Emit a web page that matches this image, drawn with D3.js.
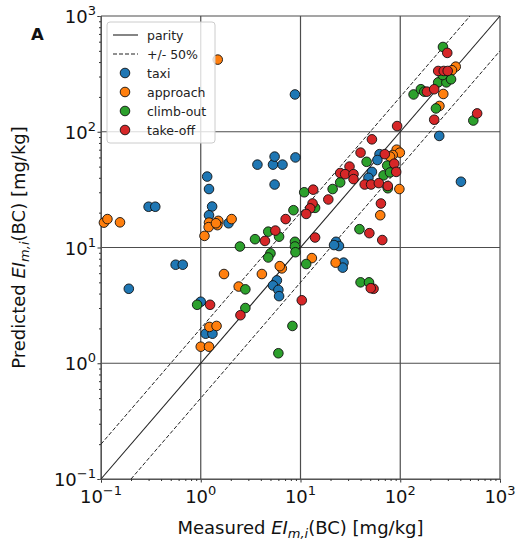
<!DOCTYPE html>
<html>
<head>
<meta charset="utf-8">
<script src="https://cdn.jsdelivr.net/npm/d3@7"></script>
<style>
body { margin: 0; background: #fff; }
text { font-family: "DejaVu Sans", sans-serif; }
</style>
</head>
<body>
<div id="chart"></div>
<script>

// measured vs predicted, one array per mode
var taxi = [[0.19,4.4],[0.30,22.5],[0.35,22.5],[0.56,7.1],[0.66,7.1],
	[1.16,41],[1.21,32],[1.3,22.6],[1.21,19],[1.9,16.2],
	[3.7,52],[5.3,52],[6.6,52],[5.5,61],[8.9,60],[5.5,35],
	[8.8,210],[406,37],[246,92],
	[62,64],[59,57],[52,45],[48,40],
	[22.7,11.2],[24.3,10.3],[21.7,10.5],[27,7.4],[26.5,6.7],
	[5.8,5.2],[5.3,4.7],[6.0,4.3],[6.1,3.8],
	[1.0,3.4],[1.12,1.8],[1.31,1.8]];

var approach = [[1.48,420],[0.107,16.4],[0.116,17.6],[0.155,16.5],
	[1.21,16.4],[1.2,15],[1.09,12.6],[1.5,17],[1.47,15.6],[1.42,16.2],[2.04,17.6],
	[1.71,5.9],[4.1,5.9],[2.4,4.6],[6.5,6.6],[6.2,6.9],
	[1.22,2.06],[1.44,2.1],[1.0,1.39],[1.21,1.39],
	[13,8.1],[22.5,7.4],
	[92,70],[99,66],[84,63],[79,61],[98,32],[63,19],
	[360,365],[330,340],[270,212],[247,167]];

var climbOut = [[268,540],[540,125],[228,159],[136,210],[161,233],[174,222],[240,267],[290,267],[323,284],[266,309],
	[46,55],[74,51],[68,42],[79,44.5],[25,36.5],[21,32],[10.9,30],[8.5,21],[14,22],[75,32.5],[39,14.4],
	[8.8,11.2],[8.8,10.2],[8.9,9.1],[2.47,10.2],[3.5,11.8],[4.75,13.7],[6.1,12.4],[5.0,8.9],[4.75,8.2],
	[2.8,4.35],[2.8,3.0],[8.3,2.1],[6.0,1.22],[0.92,3.2],[11.4,7.2],[40,5.0],[48.6,5.0]];

var takeOff = [[296,480],[240,335],[273,335],[299,335],[185,222],[219,233],[590,144],[219,127],[93,112],[52,86],[40,66],
	[31,50],[25,44],[28,43],[34,43],[34,39],[13.4,31.6],[19,26],[13.2,24],[12.5,21.8],[11.4,19.5],
	[64,24],[44,35],[51,35],[61,36],[75,34],[87,53],[91,45],[70,64],
	[49,13.3],[66,11.6],[14,12.2],[54,4.4],[50.6,4.45],[10.3,3.5],
	[7.1,17.6],[5.6,14],[4.4,11.4],[2.5,2.6],[1.24,3.2]];

var seriesNames = ["taxi", "approach", "climb-out", "take-off"];
var seriesColors = ["#1f77b4", "#ff7f0e", "#2ca02c", "#d62728"];
var majorTicks = [0.1, 1, 10, 100, 1000];
var tickExponents = ["\u22121", "0", "1", "2", "3"];

var svgWidth = 522;
var svgHeight = 550;
var margin = { top: 16, right: 22, bottom: 71, left: 101 };
var width = svgWidth - margin.left - margin.right;
var height = svgHeight - margin.top - margin.bottom;

var svg = d3.select("#chart")
	.append("svg")
	.attr("width", svgWidth)
	.attr("height", svgHeight);

var chartGroup = svg.append("g")
	.attr("transform", `translate(${margin.left}, ${margin.top})`);

var x = d3.scaleLog().domain([0.1, 1000]).range([0, width]);
var y = d3.scaleLog().domain([0.1, 1000]).range([height, 0]);

// minor ticks 2..9 per decade
var minorTicks = [];
majorTicks.slice(0, -1).forEach(function(m) {
	for (var k = 2; k < 10; k++) minorTicks.push(m * k);
});

// grid
chartGroup.selectAll(".gx").data(majorTicks).enter().append("line")
	.attr("x1", d => x(d)).attr("x2", d => x(d))
	.attr("y1", 0).attr("y2", height)
	.attr("stroke", "#4d4d4d").attr("stroke-width", 1.2);
chartGroup.selectAll(".gy").data(majorTicks).enter().append("line")
	.attr("y1", d => y(d)).attr("y2", d => y(d))
	.attr("x1", 0).attr("x2", width)
	.attr("stroke", "#4d4d4d").attr("stroke-width", 1.2);

// axes
var bottomAxis = d3.axisBottom(x).tickValues(majorTicks).tickFormat("").tickSize(3.5);
var leftAxis = d3.axisLeft(y).tickValues(majorTicks).tickFormat("").tickSize(3.5);
var gx = chartGroup.append("g").attr("transform", `translate(0, ${height})`).call(bottomAxis);
var gy = chartGroup.append("g").call(leftAxis);
chartGroup.append("g").attr("transform", `translate(0, ${height})`)
	.call(d3.axisBottom(x).tickValues(minorTicks).tickFormat("").tickSize(2));
chartGroup.append("g")
	.call(d3.axisLeft(y).tickValues(minorTicks).tickFormat("").tickSize(2));
chartGroup.selectAll(".domain").attr("stroke", "#555");
chartGroup.selectAll(".tick line").attr("stroke", "#333");

// tick labels with exponents
majorTicks.forEach(function(t, i) {
	var tx = chartGroup.append("text")
		.attr("x", x(t)).attr("y", height + 24)
		.attr("text-anchor", "middle")
		.attr("font-size", 18).attr("fill", "#111");
	tx.append("tspan").text("10");
	tx.append("tspan").attr("dy", -8).attr("font-size", 13).text(tickExponents[i]);

	var ty = chartGroup.append("text")
		.attr("x", -5).attr("y", y(t) + 7)
		.attr("text-anchor", "end")
		.attr("font-size", 18).attr("fill", "#111");
	ty.append("tspan").text("10");
	ty.append("tspan").attr("dy", -8).attr("font-size", 13).text(tickExponents[i]);
});

// reference lines
var lineGen = d3.line().x(d => x(d[0])).y(d => y(d[1]));
chartGroup.append("path")
	.attr("d", lineGen([[0.1, 0.1], [1000, 1000]]))
	.attr("stroke", "#222").attr("stroke-width", 1.1).attr("fill", "none");
chartGroup.append("path")
	.attr("d", lineGen([[0.1, 0.2], [500, 1000]]))
	.attr("stroke", "#222").attr("stroke-width", 1).attr("stroke-dasharray", "4,2").attr("fill", "none");
chartGroup.append("path")
	.attr("d", lineGen([[0.2, 0.1], [1000, 500]]))
	.attr("stroke", "#222").attr("stroke-width", 1).attr("stroke-dasharray", "4,2").attr("fill", "none");

// points
[taxi, approach, climbOut, takeOff].forEach(function(data, i) {
	chartGroup.append("g").selectAll("circle")
		.data(data)
		.enter()
		.append("circle")
		.attr("cx", d => x(d[0]))
		.attr("cy", d => y(d[1]))
		.attr("r", 4.8)
		.attr("fill", seriesColors[i])
		.attr("stroke", "#111")
		.attr("stroke-width", 0.9);
});

// legend
var legend = chartGroup.append("g").attr("transform", "translate(6, 6)");
legend.append("rect")
	.attr("width", 108).attr("height", 121).attr("rx", 3)
	.attr("fill", "#fff").attr("fill-opacity", 0.8)
	.attr("stroke", "#ccc");
var legendLabels = ["parity", "+/- 50%"].concat(seriesNames);
legendLabels.forEach(function(lbl, i) {
	var ly = 13 + i * 19;
	if (i < 2) {
		legend.append("line")
			.attr("x1", 6).attr("x2", 31).attr("y1", ly).attr("y2", ly)
			.attr("stroke", "#222").attr("stroke-width", 1.1)
			.attr("stroke-dasharray", i == 1 ? "4,2" : null);
	} else {
		legend.append("circle")
			.attr("cx", 18).attr("cy", ly).attr("r", 4.8)
			.attr("fill", seriesColors[i - 2]).attr("stroke", "#111").attr("stroke-width", 0.9);
	}
	legend.append("text")
		.attr("x", 40).attr("y", ly + 4.5)
		.attr("font-size", 12.5).attr("fill", "#222")
		.text(lbl);
});

// axis titles
var xt = svg.append("text")
	.attr("x", margin.left + width / 2).attr("y", 534)
	.attr("text-anchor", "middle").attr("font-size", 18).attr("fill", "#111");
xt.append("tspan").text("Measured ");
xt.append("tspan").attr("font-style", "italic").text("EI");
xt.append("tspan").attr("font-style", "italic").attr("font-size", 13).attr("dy", 4).text("m,i");
xt.append("tspan").attr("dy", -4).text("(BC) [mg/kg]");

var yt = svg.append("text")
	.attr("transform", `translate(25, ${margin.top + height / 2}) rotate(-90)`)
	.attr("text-anchor", "middle").attr("font-size", 18).attr("fill", "#111");
yt.append("tspan").text("Predicted ");
yt.append("tspan").attr("font-style", "italic").text("EI");
yt.append("tspan").attr("font-style", "italic").attr("font-size", 13).attr("dy", 4).text("m,i");
yt.append("tspan").attr("dy", -4).text("(BC) [mg/kg]");

svg.append("text")
	.attr("x", 31).attr("y", 40)
	.attr("font-size", 16.5).attr("font-weight", "bold").attr("fill", "#111")
	.text("A");

</script>
</body>
</html>
